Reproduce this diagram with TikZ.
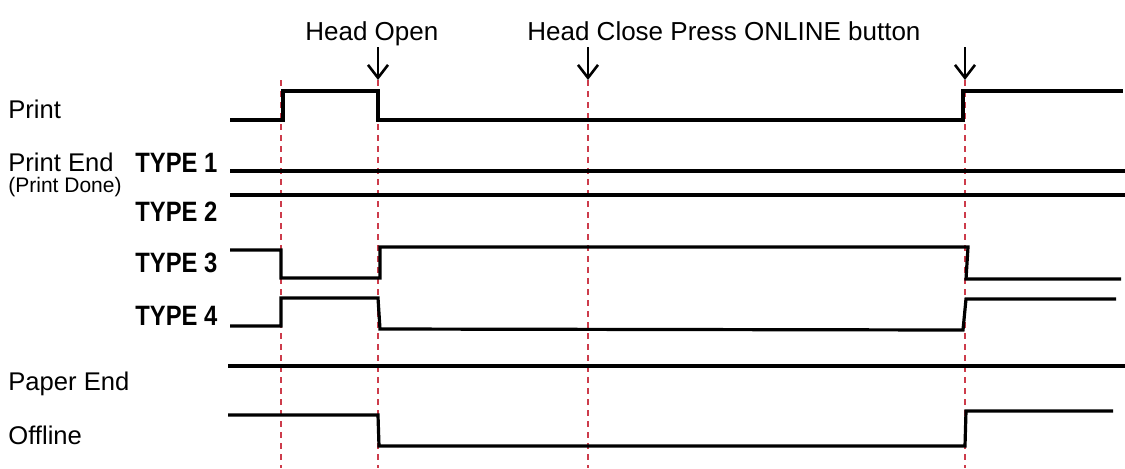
\documentclass[tikz,border=0pt]{standalone}
\usepackage{fontspec}
\setmainfont{Liberation Sans}
\usetikzlibrary{arrows.meta}
\definecolor{evtred}{RGB}{205,60,75}
\newcommand\typelbl[1]{\scalebox{0.85}[1]{\bfseries TYPE #1}}

\begin{document}
\begin{tikzpicture}[x=0.5pt,y=-0.5pt,>={Straight Barb[length=6.5pt,width=10pt]},
  sig/.style={line width=1.6pt,line join=miter},
  evt/.style={evtred,line width=1pt,dash pattern=on 3pt off 2.5pt},
  lbl/.style={anchor=base west,inner sep=0pt,font=\fontsize{12.8}{14}\selectfont}]
\useasboundingbox (0,0) rectangle (1125,468);
% event lines
\foreach \x in {281,378,588,965} \draw[evt] (\x,80) -- (\x,468);
\node[lbl,font=\fontsize{13}{15}\selectfont] (headopen) at (305,40) {Head Open};
\node[lbl,font=\fontsize{13}{15}\selectfont] (headclose) at (527,40) {Head Close Press ONLINE button};
\foreach \x/\n in {378/a,588/b,965/c} {
  \coordinate (top\n) at (\x,47);
  \coordinate (tip\n) at (\x,80);
  \draw[->,line width=1.3pt] (top\n) -- (tip\n);
}
% signal names
\node[lbl] (print) at (8,118) {Print};
\node[lbl] (printend) at (8,171) {Print End};
\node[lbl,font=\fontsize{10.5}{12}\selectfont] (printdone) at (8,192) {(Print Done)};
\node[lbl,font=\fontsize{14}{16}\selectfont] (type1) at (135,172) {\typelbl{1}};
\node[lbl,font=\fontsize{14}{16}\selectfont] (type2) at (135,221) {\typelbl{2}};
\node[lbl,font=\fontsize{14}{16}\selectfont] (type3) at (135,272) {\typelbl{3}};
\node[lbl,font=\fontsize{14}{16}\selectfont] (type4) at (135,325) {\typelbl{4}};
\node[lbl] (paperend) at (8,390) {Paper End};
\node[lbl] (offline) at (8,444) {Offline};
% waveforms
\draw[sig] (230,120) -- (283,120) -- (283,91) -- (378,91) -- (378,120) -- (963,120) -- (963,91) -- (1123,91);
\draw[sig] (230,171) -- (1125,171);
\draw[sig] (230,195) -- (1125,195);
\draw[sig] (230,250) -- (281,250) -- (281,278) -- (380,278) -- (380,247) -- (968,247) -- (966,279) -- (1121,279);
\draw[sig] (230,326) -- (281,326) -- (281,298) -- (378,298) -- (380,329) -- (963,330) -- (966,299) -- (1116,299);
\draw[sig] (228,366) -- (1125,366);
\draw[sig] (228,415) -- (378,415) -- (379,446) -- (965,446) -- (966,411) -- (1113,411);
\end{tikzpicture}
\end{document}
